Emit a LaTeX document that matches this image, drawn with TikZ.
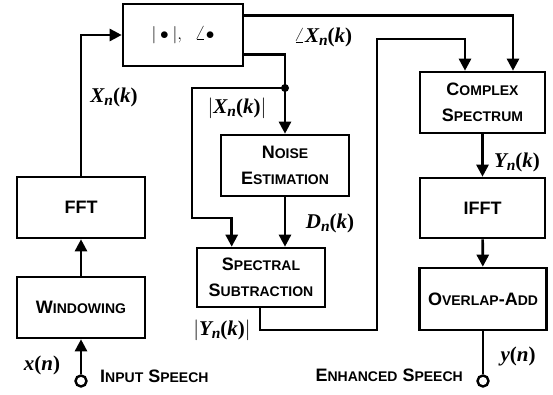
\documentclass[tikz,border=0pt]{standalone}
\usepackage{fontspec}
\usetikzlibrary{arrows.meta,calc}
\newfontfamily\lsf{Liberation Sans}
\newfontfamily\lsr{Liberation Serif}
\newcommand\bsc[2]{{#1{\fontsize{14}{15}\selectfont #2}}}
\newcommand\mlab[3]{{\lsr\bfseries\itshape #1\raisebox{-0.35ex}{\fontsize{15.5}{15}\selectfont #2}{\upshape(}#3{\upshape)}}}
\begin{document}
\begin{tikzpicture}[x=1pt,y=-1pt,
  blk/.style={draw,line width=2.6pt,align=center,font=\lsf\bfseries\fontsize{18}{26}\selectfont,inner sep=0pt},
  wire/.style={line width=2.6pt},
  arr/.style={wire,-{Triangle[length=12pt,width=12pt]}},
  lab/.style={font=\lsr\bfseries\fontsize{21}{23}\selectfont,inner sep=0pt},
  term/.style={circle,draw,line width=2.4pt,fill=white,minimum size=11pt,inner sep=0pt},
  captxt/.style={font=\lsf\bfseries\fontsize{18}{20}\selectfont,inner sep=0pt}]
\useasboundingbox (0,0) rectangle (553,395);
% blocks
\node[blk,minimum width=120pt,minimum height=62pt,font=\fontsize{19}{20}\selectfont] (top) at (183,35) {$|\bullet|,\;\;\angle\bullet$};
\node[blk,minimum width=128pt,minimum height=61pt] (fft) at (81,207.5) {FFT};
\node[blk,minimum width=128pt,minimum height=61pt] (win) at (81,307.5) {\bsc{W}{INDOWING}};
\node[blk,minimum width=128pt,minimum height=61pt] (noise) at (285,165.5) {\bsc{N}{OISE}\\\bsc{E}{STIMATION}};
\node[blk,minimum width=128pt,minimum height=59pt] (spec) at (261,277.5) {\bsc{S}{PECTRAL}\\\bsc{S}{UBTRACTION}};
\node[blk,minimum width=125pt,minimum height=61pt] (cplx) at (482.5,102.5) {\bsc{C}{OMPLEX}\\\bsc{S}{PECTRUM}};
\node[blk,minimum width=125pt,minimum height=60pt] (ifft) at (482.5,208) {IFFT};
\node[blk,minimum width=127pt,minimum height=62pt] (ola) at (483,299) {\bsc{O}{VERLAP}-\bsc{A}{DD}};
% terminals
\node[term] (in) at (81,381) {};
\node[term] (out) at (483,381) {};
% coordinates
\coordinate (j) at (285,88);
\coordinate (jl) at (192,88);
\coordinate (jb) at (192,218);
\coordinate (sa) at (377,330);
\coordinate (sb) at (377,39);
% connectors
\draw[arr] (in) -- (win);
\draw[arr] (win) -- (fft);
\draw[arr] (fft.north) |- (top.west);
\draw[arr] ($(top.north east)+(0,13)$) -| ($(cplx.north)+(30.5,0)$);
\draw[wire] ($(top.south east)+(0,-13)$) -| (j);
\draw[arr] (j) -- (noise.north);
\draw[arr] (j) -- (jl) -- (jb) -| ($(spec.north west)+(36,0)$);
\fill (j) circle (4pt);
\draw[arr] (noise.south) -- (noise.south |- spec.north);
\draw[arr] ($(spec.south)+(-1,0)$) |- (sa) -- (sb) -| ($(cplx.north)+(-17.5,0)$);
\draw[arr] (cplx) -- (ifft);
\draw[arr] (ifft) -- (ola);
\draw[wire] (ola.south) -- (out.north);
% labels
\node[lab] (lx) at (114,97) {\mlab{X}{n}{k}};
\node[lab] (lax) at (237,108) {$|$\mlab{X}{n}{k}$|$};
\node[lab] (lang) at (323,37) {$\angle$\mlab{X}{n}{k}};
\node[lab] (ld) at (330,223) {\mlab{D}{n}{k}};
\node[lab] (lay) at (222,330) {$|$\mlab{Y}{n}{k}$|$};
\node[lab] (ly) at (517,162) {\mlab{Y}{n}{k}};
\node[lab] (lxn) at (42,365) {{\itshape x}(\textit{n})};
\node[lab] (lyn) at (518,356) {{\itshape y}(\textit{n})};
\node[captxt,anchor=west] (cin) at (100,376) {\bsc{I}{NPUT} \bsc{S}{PEECH}};
\node[captxt,anchor=east] (cout) at (463,375) {\bsc{E}{NHANCED} \bsc{S}{PEECH}};
\end{tikzpicture}
\end{document}
